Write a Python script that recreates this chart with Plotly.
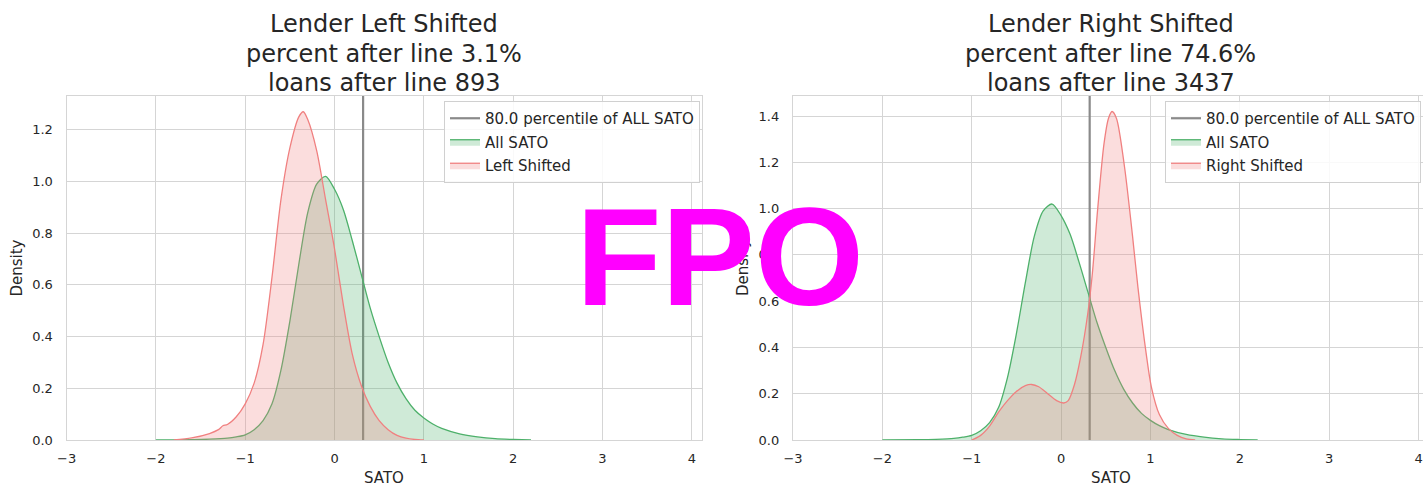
import plotly.graph_objects as go

# ---------------- data ----------------
all_sato_x = [-2.0, -1.6, -1.4, -1.2, -1.1, -1.0, -0.9, -0.8, -0.7, -0.6, -0.5, -0.4, -0.3,
              -0.2, -0.1, 0.0, 0.1, 0.2, 0.3, 0.4, 0.5, 0.6, 0.7, 0.8, 0.9, 1.0, 1.1, 1.2,
              1.4, 1.6, 1.8, 2.0, 2.2]
all_sato_y = [0.0, 0.001, 0.003, 0.007, 0.012, 0.02, 0.04, 0.075, 0.14, 0.27, 0.46, 0.68, 0.88,
              0.99, 1.02, 0.97, 0.89, 0.77, 0.64, 0.51, 0.40, 0.30, 0.22, 0.16, 0.115, 0.085,
              0.062, 0.045, 0.024, 0.012, 0.005, 0.002, 0.0]

left_x = [-1.8, -1.6, -1.4, -1.3, -1.25, -1.2, -1.1, -1.0, -0.9, -0.8, -0.7, -0.6, -0.5,
          -0.4, -0.35, -0.3, -0.2, -0.1, 0.0, 0.1, 0.2, 0.3, 0.4, 0.5, 0.6, 0.7, 0.8, 0.9, 1.0]
left_y = [0.0, 0.008, 0.025, 0.04, 0.055, 0.06, 0.09, 0.14, 0.22, 0.37, 0.63, 0.93, 1.13,
          1.25, 1.27, 1.24, 1.12, 0.93, 0.74, 0.52, 0.33, 0.21, 0.13, 0.075, 0.04, 0.018,
          0.007, 0.002, 0.0]

right_x = [-1.0, -0.9, -0.8, -0.7, -0.6, -0.5, -0.4, -0.33, -0.25, -0.15, -0.05, 0.03, 0.08,
           0.15, 0.22, 0.3, 0.35, 0.41, 0.48, 0.53, 0.57, 0.62, 0.71, 0.8, 0.86, 0.95, 1.01,
           1.1, 1.2, 1.3, 1.4, 1.5]
right_y = [0.0, 0.02, 0.06, 0.12, 0.17, 0.21, 0.235, 0.24, 0.23, 0.20, 0.17, 0.16, 0.17,
           0.24, 0.36, 0.55, 0.72, 1.0, 1.28, 1.39, 1.42, 1.39, 1.18, 0.88, 0.66, 0.38, 0.23,
           0.11, 0.05, 0.02, 0.005, 0.0]

percentile_80 = 0.32
titles = [
    ["Lender Left Shifted", "percent after line 3.1%", "loans after line 893"],
    ["Lender Right Shifted", "percent after line 74.6%", "loans after line 3437"],
]
group_names = ["Left Shifted", "Right Shifted"]
y_tops = [1.331, 1.487]
y_ticks = [[0.0, 0.2, 0.4, 0.6, 0.8, 1.0, 1.2], [0.0, 0.2, 0.4, 0.6, 0.8, 1.0, 1.2, 1.4]]
x_ticks = [-3, -2, -1, 0, 1, 2, 3, 4]

# ---------------- styling ----------------
W, H = 1423, 487
GREEN = "#4DB06A"
GREEN_FILL = "rgba(77,176,106,0.27)"
RED = "#F08080"
RED_FILL = "rgba(240,128,128,0.27)"
GRID = "#d5d5d5"
TXT = "#262626"
FONT = "DejaVu Sans"

fig = go.Figure()

panels = [
    dict(xl=66.6, xr=701.6, xrange=[-3, 4.11], sx=left_x, sy=left_y, suffix="", legend="legend"),
    dict(xl=793.0, xr=1423.0, xrange=[-3, 4.05], sx=right_x, sy=right_y, suffix="2", legend="legend2"),
]
plot_top, plot_bot = 96, 440

for i, p in enumerate(panels):
    xa = "x" + p["suffix"]
    ya = "y" + p["suffix"]
    fig.add_trace(go.Scatter(
        x=[percentile_80, percentile_80], y=[0, y_tops[i]], mode="lines",
        line=dict(color="#8a8a8a", width=2.2), name="80.0 percentile of ALL SATO",
        xaxis=xa, yaxis=ya, legend=p["legend"], legendgroup="a%d" % i))
    fig.add_trace(go.Scatter(
        x=all_sato_x, y=all_sato_y, mode="lines", fill="tozeroy", fillcolor=GREEN_FILL,
        line=dict(color=GREEN, width=1.3, shape="spline", smoothing=0.8), name="All SATO",
        xaxis=xa, yaxis=ya, legend=p["legend"], legendgroup="b%d" % i))
    fig.add_trace(go.Scatter(
        x=p["sx"], y=p["sy"], mode="lines", fill="tozeroy", fillcolor=RED_FILL,
        line=dict(color=RED, width=1.3, shape="spline", smoothing=0.8), name=group_names[i],
        xaxis=xa, yaxis=ya, legend=p["legend"], legendgroup="c%d" % i))

    axis_common = dict(showgrid=True, gridcolor=GRID, gridwidth=1, zeroline=False,
                       showline=True, linecolor=GRID, linewidth=1.3, mirror=True,
                       ticks="", automargin=False,
                       tickfont=dict(family=FONT, size=13, color=TXT))
    fig.update_layout(**{
        "xaxis" + p["suffix"]: dict(domain=[p["xl"] / W, p["xr"] / W], range=p["xrange"],
                                    tickvals=x_ticks,
                                    ticktext=["\u2212%d" % -v if v < 0 else str(v) for v in x_ticks],
                                    anchor=ya, ticklabelstandoff=6, **axis_common),
        "yaxis" + p["suffix"]: dict(domain=[1 - plot_bot / H, 1 - plot_top / H], range=[0, y_tops[i]],
                                    tickvals=y_ticks[i], ticktext=["%.1f" % v for v in y_ticks[i]],
                                    anchor=xa, ticklabelstandoff=10, **axis_common),
    })

    cx = (p["xl"] + p["xr"]) / 2 if i == 0 else (793 + 1428) / 2
    for j, line in enumerate(titles[i]):
        fig.add_annotation(text=line, x=cx / W, y=1 - [24, 54, 83][j] / H, xref="paper", yref="paper",
                           xanchor="center", yanchor="middle", showarrow=False,
                           font=dict(family=FONT, size=24, color=TXT))
    fig.add_annotation(text="SATO", x=cx / W, y=1 - 478 / H, xref="paper", yref="paper",
                       xanchor="center", yanchor="middle", showarrow=False,
                       font=dict(family=FONT, size=15, color=TXT))
    fig.add_annotation(text="Density", x=(p["xl"] - 50) / W, y=1 - 268 / H, xref="paper", yref="paper",
                       xanchor="center", yanchor="middle", showarrow=False, textangle=-90,
                       font=dict(family=FONT, size=15, color=TXT))

legend_common = dict(bgcolor="rgba(255,255,255,0.85)", bordercolor="#d0d0d0", borderwidth=1,
                     font=dict(family=FONT, size=15, color=TXT), xanchor="right", yanchor="top",
                     traceorder="grouped", tracegroupgap=1, itemwidth=30)
fig.update_layout(
    width=W, height=H,
    margin=dict(l=0, r=0, t=0, b=0, autoexpand=False),
    paper_bgcolor="white", plot_bgcolor="white",
    legend=dict(x=700 / W, y=1 - 101 / H, **legend_common),
    legend2=dict(x=1421 / W, y=1 - 101 / H, **legend_common),
)

# "FPO" stamp overlay
fig.add_annotation(text="<b>FPO</b>", x=720 / W, y=1 - 256 / H, xref="paper", yref="paper",
                   xanchor="center", yanchor="middle", showarrow=False,
                   font=dict(family="Liberation Sans", size=140, color="#FF00FF"))

fig.write_html("out.html", config={"displayModeBar": False},
               post_script="document.body.style.margin='0px';")
